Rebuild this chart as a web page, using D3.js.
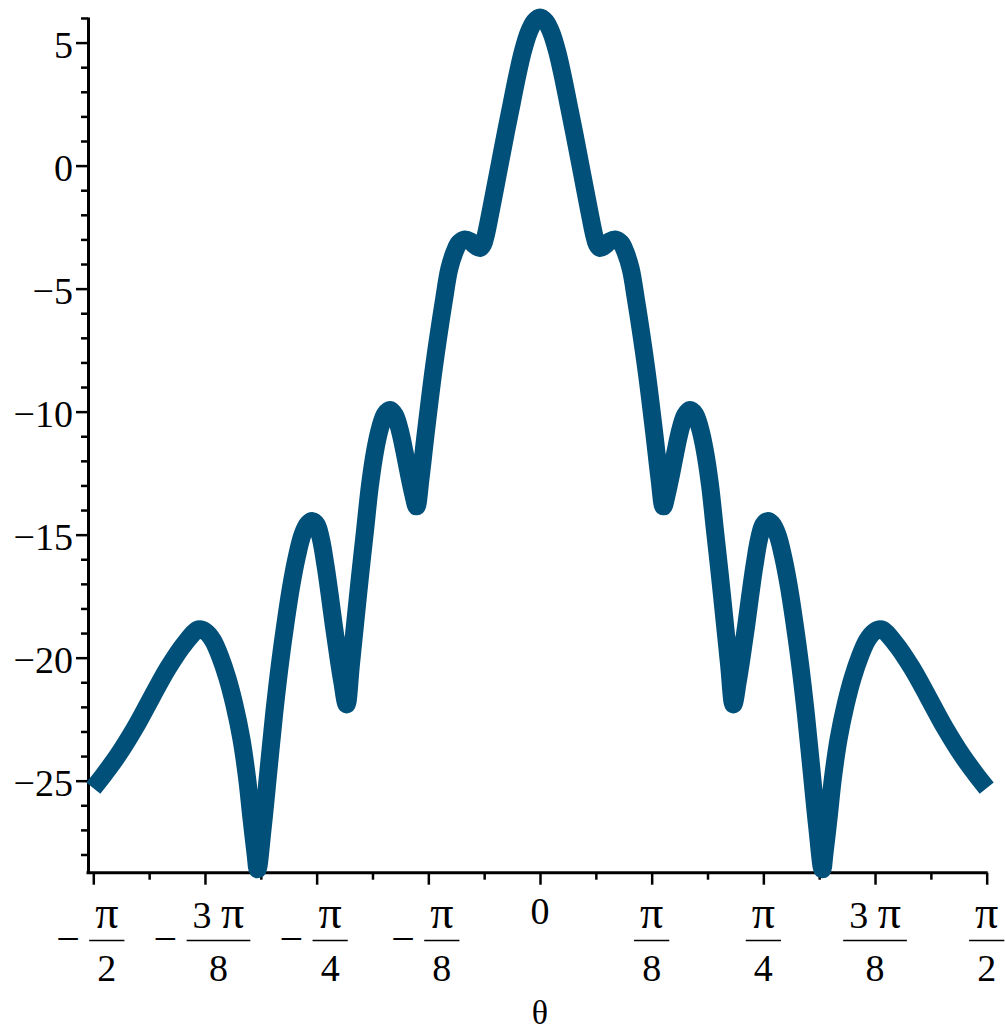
<!DOCTYPE html>
<html>
<head>
<meta charset="utf-8">
<script src="https://cdn.jsdelivr.net/npm/d3@7"></script>
<style>
  body { margin: 0; background: #fff; }
  svg text { font-family: "Liberation Serif", "Times New Roman", serif; fill: #000; }
</style>
</head>
<body>
<svg id="plot" width="1005" height="1030"></svg>
<script>
// theta (rad) and level (dB)
var thetaVals = [
  -1.5708, -1.53, -1.483, -1.424, -1.365, -1.307, -1.248, -1.2, -1.175, -1.15, -1.125,
  -1.1, -1.075, -1.05, -1.03, -1.015, -1.0, -0.993, -0.975, -0.955, -0.935,
  -0.915, -0.895, -0.875, -0.855, -0.835, -0.815, -0.8, -0.785, -0.77, -0.755,
  -0.74, -0.725, -0.71, -0.695, -0.68, -0.665, -0.65, -0.633, -0.615, -0.598,
  -0.58, -0.562, -0.545, -0.527, -0.51, -0.492, -0.477, -0.46, -0.445, -0.434,
  -0.42, -0.402, -0.373, -0.3375, -0.319, -0.3, -0.285, -0.264, -0.245, -0.228,
  -0.211, -0.2, -0.19, -0.175, -0.16, -0.14, -0.12, -0.1, -0.08, -0.06,
  -0.04, -0.02, 0,
  0.02, 0.04, 0.06, 0.08, 0.1, 0.12, 0.14, 0.16, 0.175, 0.19,
  0.2, 0.211, 0.228, 0.245, 0.264, 0.285, 0.3, 0.319, 0.3375, 0.373,
  0.402, 0.42, 0.434, 0.445, 0.46, 0.477, 0.492, 0.51, 0.527, 0.545,
  0.562, 0.58, 0.598, 0.615, 0.633, 0.65, 0.665, 0.68, 0.695, 0.71,
  0.725, 0.74, 0.755, 0.77, 0.785, 0.8, 0.815, 0.835, 0.855, 0.875,
  0.895, 0.915, 0.935, 0.955, 0.975, 0.993, 1.0, 1.015, 1.03, 1.05,
  1.075, 1.1, 1.125, 1.15, 1.175, 1.2, 1.248, 1.307, 1.365, 1.424,
  1.483, 1.53, 1.5708
];
var dbVals = [
  -25.3, -24.7, -23.95, -22.85, -21.6, -20.4, -19.4, -18.85, -18.95, -19.3, -19.95,
  -20.8, -21.9, -23.3, -24.9, -26.5, -28.0, -28.6, -26.9, -24.6, -22.3,
  -20.3, -18.6, -17.1, -15.9, -15.0, -14.55, -14.45, -14.6, -15.2, -16.2,
  -17.4, -18.7, -19.9, -21.0, -21.9, -20.3, -18.6, -16.7, -14.8, -13.0,
  -11.6, -10.65, -10.1, -9.93, -10.15, -10.8, -11.6, -12.6, -13.4, -13.85,
  -12.7, -10.9, -8.2, -5.45, -4.2, -3.5, -3.15, -3.0, -3.08, -3.25,
  -3.35, -3.2, -2.8, -1.95, -1.05, 0.15, 1.35, 2.5, 3.65, 4.65,
  5.4, 5.85, 6.02,
  5.85, 5.4, 4.65, 3.65, 2.5, 1.35, 0.15, -1.05, -1.95, -2.8,
  -3.2, -3.35, -3.25, -3.08, -3.0, -3.15, -3.5, -4.2, -5.45, -8.2,
  -10.9, -12.7, -13.85, -13.4, -12.6, -11.6, -10.8, -10.15, -9.93, -10.1,
  -10.65, -11.6, -13.0, -14.8, -16.7, -18.6, -20.3, -21.9, -21.0, -19.9,
  -18.7, -17.4, -16.2, -15.2, -14.6, -14.45, -14.55, -15.0, -15.9, -17.1,
  -18.6, -20.3, -22.3, -24.6, -26.9, -28.6, -28.0, -26.5, -24.9, -23.3,
  -21.9, -20.8, -19.95, -19.3, -18.95, -18.85, -19.4, -20.4, -21.6, -22.85,
  -23.95, -24.7, -25.3
];

// tick values
var yMajor = [5, 0, -5, -10, -15, -20, -25];
var yMinor = [6, 4, 3, 2, 1, -1, -2, -3, -4, -6, -7, -8, -9, -11, -12, -13, -14,
  -16, -17, -18, -19, -21, -22, -23, -24, -26, -27, -28];
var xMajorK = [-4, -3, -2, -1, 0, 1, 2, 3, 4];        // multiples of pi/8
var xMinorK = [-7, -5, -3, -1, 1, 3, 5, 7];            // multiples of pi/16
var xCoef = ["", "3 ", "", "", "0", "", "", "3 ", ""];
var xDen = ["2", "8", "4", "8", "", "8", "4", "8", "2"];
var xNeg = [true, true, true, true, false, false, false, false, false];

var svg = d3.select("#plot");
var fs = 38;

var x = d3.scaleLinear()
  .domain([-Math.PI / 2, Math.PI / 2])
  .range([93.3, 986.7]);

var y = d3.scaleLinear()
  .domain([-28.74, 6.04])
  .range([872.7, 17]);

var axisX = 88;   // where the vertical axis sits
var y0 = y.range()[0];

// vertical axis
var yAx = svg.append("g")
  .attr("transform", "translate(" + axisX + ",0)")
  .call(d3.axisLeft(y).tickValues(yMajor).tickSize(12).tickSizeOuter(0)
    .tickFormat(function(d) { return d < 0 ? "\u2212" + Math.abs(d) : d; }));
yAx.select(".domain").attr("stroke-width", 3);
yAx.selectAll(".tick line").attr("stroke-width", 2.5);
yAx.selectAll(".tick text")
  .attr("x", -15)
  .attr("dy", "0.38em")
  .style("font-size", fs + "px");

var yMin = svg.append("g")
  .attr("transform", "translate(" + axisX + ",0)")
  .call(d3.axisLeft(y).tickValues(yMinor).tickSize(7).tickSizeOuter(0).tickFormat(""));
yMin.select(".domain").remove();
yMin.selectAll(".tick line").attr("stroke-width", 2.5);

// horizontal axis
svg.append("line")
  .attr("x1", axisX - 1.5).attr("x2", x(Math.PI / 2) + 1)
  .attr("y1", y0).attr("y2", y0)
  .attr("stroke", "#000").attr("stroke-width", 3);

var xAx = svg.append("g")
  .attr("transform", "translate(0," + y0 + ")")
  .call(d3.axisBottom(x).tickValues(xMajorK.map(function(k) { return k * Math.PI / 8; }))
    .tickSize(12).tickSizeOuter(0).tickFormat(""));
xAx.select(".domain").remove();
xAx.selectAll(".tick line").attr("stroke-width", 2.5);

var xMin = svg.append("g")
  .attr("transform", "translate(0," + y0 + ")")
  .call(d3.axisBottom(x).tickValues(xMinorK.map(function(k) { return k * Math.PI / 16; }))
    .tickSize(7).tickSizeOuter(0).tickFormat(""));
xMin.select(".domain").remove();
xMin.selectAll(".tick line").attr("stroke-width", 2.5);

// fraction labels under x ticks
var numBase = 928, barY = 940.5, denBase = 981;
xMajorK.forEach(function(k, i) {
  var cx = x(k * Math.PI / 8);
  var g = svg.append("g");
  if (xDen[i] === "") {
    g.append("text").attr("x", cx).attr("y", 924)
      .attr("text-anchor", "middle").style("font-size", fs + "px").text(xCoef[i]);
    return;
  }
  var num = g.append("text").attr("y", numBase)
    .attr("text-anchor", "middle").style("font-size", fs + "px");
  num.append("tspan").text(xCoef[i]);
  num.append("tspan").style("font-size", "46px").text("π");
  var w = num.node().getComputedTextLength();
  var barW = w + 12;
  var minusW = xNeg[i] ? 27 : 0;
  var left = cx - (barW + minusW) / 2;
  var fc = left + minusW + barW / 2;
  num.attr("x", fc);
  g.append("text").attr("x", fc).attr("y", denBase)
    .attr("text-anchor", "middle").style("font-size", fs + "px").text(xDen[i]);
  g.append("line")
    .attr("x1", fc - barW / 2).attr("x2", fc + barW / 2)
    .attr("y1", barY).attr("y2", barY)
    .attr("stroke", "#000").attr("stroke-width", 1.6);
  if (xNeg[i]) {
    g.append("text").attr("x", left - 6).attr("y", barY + 12)
      .style("font-size", "42px").text("\u2212");
  }
});

svg.append("text")
  .attr("x", x(0)).attr("y", 1024)
  .attr("text-anchor", "middle")
  .style("font-size", "34px")
  .text("θ");

// the curve
var pts = thetaVals.map(function(t, i) { return [t, dbVals[i]]; });
var line = d3.line()
  .x(function(d) { return x(d[0]); })
  .y(function(d) { return y(d[1]); })
  .curve(d3.curveCatmullRom.alpha(0.5));

svg.append("path")
  .datum(pts)
  .attr("d", line)
  .attr("fill", "none")
  .attr("stroke", "#00507a")
  .attr("stroke-width", 18)
  .attr("stroke-linejoin", "round")
  .attr("stroke-linecap", "butt");
</script>
</body>
</html>
